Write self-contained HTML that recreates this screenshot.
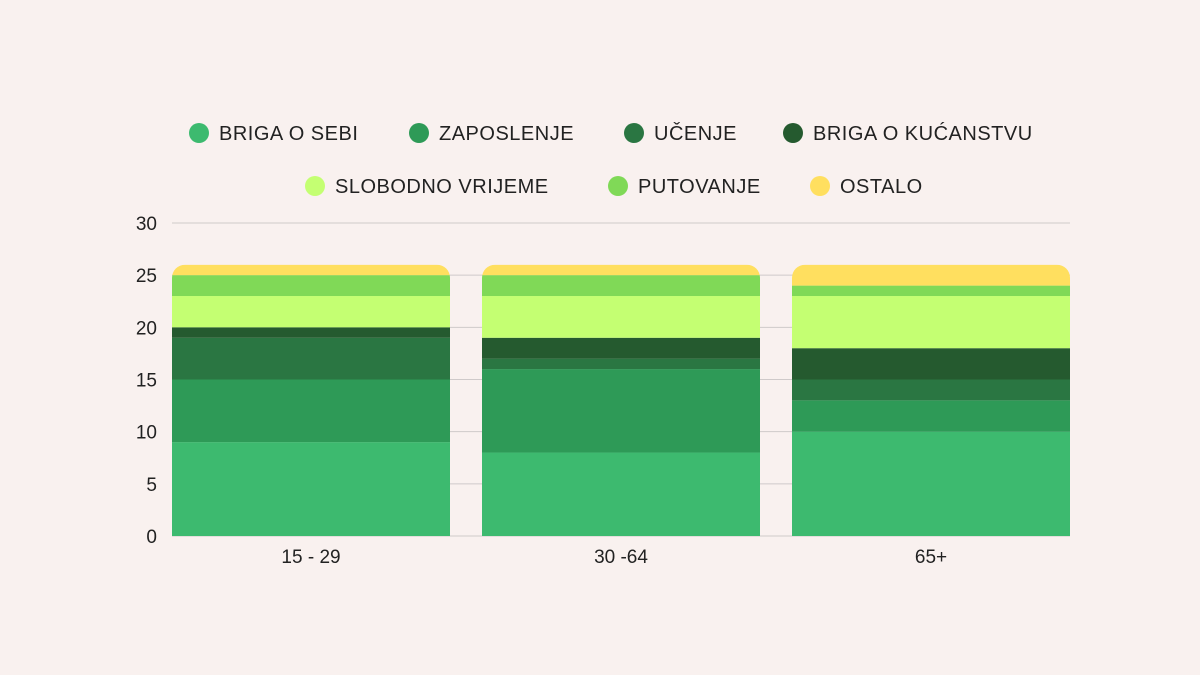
<!DOCTYPE html>
<html><head><meta charset="utf-8"><style>
html,body{margin:0;padding:0;background:#f9f1ef;}
svg{display:block;font-family:"Liberation Sans",sans-serif;}
</style></head><body>
<svg id="chart" width="1200" height="675"></svg>
<script>
const categories = ["15 - 29", "30 -64", "65+"];
const seriesNames = ["BRIGA O SEBI","ZAPOSLENJE","UČENJE","BRIGA O KUĆANSTVU","SLOBODNO VRIJEME","PUTOVANJE","OSTALO"];
const seriesColors = ["#3dba6f","#2e9a57","#2a7642","#255a2f","#c4ff72","#80d957","#ffdf5f"];
const brigaOSebi = [9, 8, 10];
const zaposlenje = [6, 8, 3];
const ucenje = [4, 1, 2];
const kucanstvo = [1, 2, 3];
const slobodno = [3, 4, 5];
const putovanje = [2, 2, 1];
const ostalo = [1, 1, 2];
const yTicks = [0, 5, 10, 15, 20, 25, 30];
const series = [brigaOSebi, zaposlenje, ucenje, kucanstvo, slobodno, putovanje, ostalo];

const NS = "http://www.w3.org/2000/svg";
const svg = document.getElementById("chart");
function mk(tag, attrs, parent) {
  const e = document.createElementNS(NS, tag);
  for (const k in attrs) e.setAttribute(k, attrs[k]);
  (parent || svg).appendChild(e);
  return e;
}
const y0 = 536, yTop = 223, yMax = 30;
const y = v => y0 - (v / yMax) * (y0 - yTop);
const plotL = 172, plotR = 1070, gap = 32;
const bw = (plotR - plotL - gap * (categories.length - 1)) / categories.length;
const x = i => plotL + i * (bw + gap);

// grid + ticks
yTicks.forEach(t => {
  const g = mk("line", {x1: plotL, x2: plotR, y1: y(t), y2: y(t), stroke: "#cfcaca", "stroke-width": 1});
  
  
  const tx = mk("text", {x: 157, y: y(t) + 7, "text-anchor": "end", "font-size": 19, fill: "#222"});
  tx.textContent = t;
  
  
});

// bars
const defs = mk("defs", {});
categories.forEach((c, i) => {
  let total = series.reduce((s, a) => s + a[i], 0);
  const clip = mk("clipPath", {id: "clip" + i}, defs);
  mk("rect", {x: x(i), y: y(total), width: bw, height: y0 - y(total) + 20, rx: 13}, clip);
  mk("rect", {x: x(i), y: y(total) + 20, width: bw, height: y0 - y(total) - 20}, clip);
  const g = mk("g", {"clip-path": "url(#clip" + i + ")"});
  
  
  let acc = 0;
  series.forEach((s, k) => {
    const r = mk("rect", {x: x(i), y: y(acc + s[i]), width: bw, height: y(acc) - y(acc + s[i]), fill: seriesColors[k]}, g);
    
    
    acc += s[i];
  });
  const lbl = mk("text", {x: x(i) + bw / 2, y: 563, "text-anchor": "middle", "font-size": 19, fill: "#222"});
  lbl.textContent = c;
  
  
});

// legend
const legendPos = [[199,133],[419,133],[634,133],[793,133],[315,186],[618,186],[820,186]];
seriesNames.forEach((n, k) => {
  const g = mk("g", {});
  
  
  mk("circle", {cx: legendPos[k][0], cy: legendPos[k][1], r: 10, fill: seriesColors[k]}, g);
  const t = mk("text", {x: legendPos[k][0] + 20, y: legendPos[k][1] + 7, "font-size": 20, fill: "#222", "letter-spacing": "0.5"}, g);
  t.textContent = n;
});
</script>
</body></html>
